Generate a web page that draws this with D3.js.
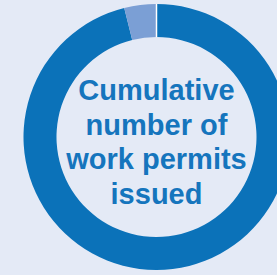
<!DOCTYPE html>
<html><head><meta charset="utf-8">
<script src="https://cdn.jsdelivr.net/npm/d3@7"></script>
<style>html,body{margin:0;padding:0;background:#e4eaf6;overflow:hidden}</style>
</head><body>
<script>
const categories = ["Issued", "Other"];
const values = [96.1, 3.9];
const titleLines = ["Cumulative", "number of", "work permits", "issued"];
const colors = ["#0b72b9", "#7b9fd5"];

const W = 277, H = 275;
const cx = 156.5, cy = 137, R = 133, r = 100;
const svg = d3.select("body").append("svg").attr("width", W).attr("height", H);
svg.append("rect").attr("width", W).attr("height", H).attr("fill", "#e4eaf6");
const g = svg.append("g").attr("transform", `translate(${cx},${cy})`);
const pie = d3.pie().sort(null).value(d => d.v);
const arcs = pie(categories.map((c, i) => ({c, v: values[i]})));
const arc = d3.arc().innerRadius(r).outerRadius(R);
const color = d3.scaleOrdinal().domain(categories).range(colors);
g.selectAll("path.slice").data(arcs).join("path").attr("class","slice")
  .attr("d", arc).attr("fill", d => color(d.data.c));
// white separator at start of first slice
const a0 = arcs[0].startAngle;
g.append("line")
  .attr("x1", r * Math.sin(a0) ).attr("y1", -r * Math.cos(a0))
  .attr("x2", R * Math.sin(a0)).attr("y2", -R * Math.cos(a0))
  .attr("stroke", "#ffffff").attr("stroke-width", 1.5);
const t = g.append("text").attr("text-anchor", "middle")
  .attr("font-family", "'Liberation Sans', Arial, sans-serif").attr("font-weight", "bold")
  .attr("font-size", 29).attr("fill", "#1575bd");
titleLines.forEach((l, i) => t.append("tspan").attr("x", 0).attr("y", -37 + i * 34.5).text(l));
</script>
</body></html>
